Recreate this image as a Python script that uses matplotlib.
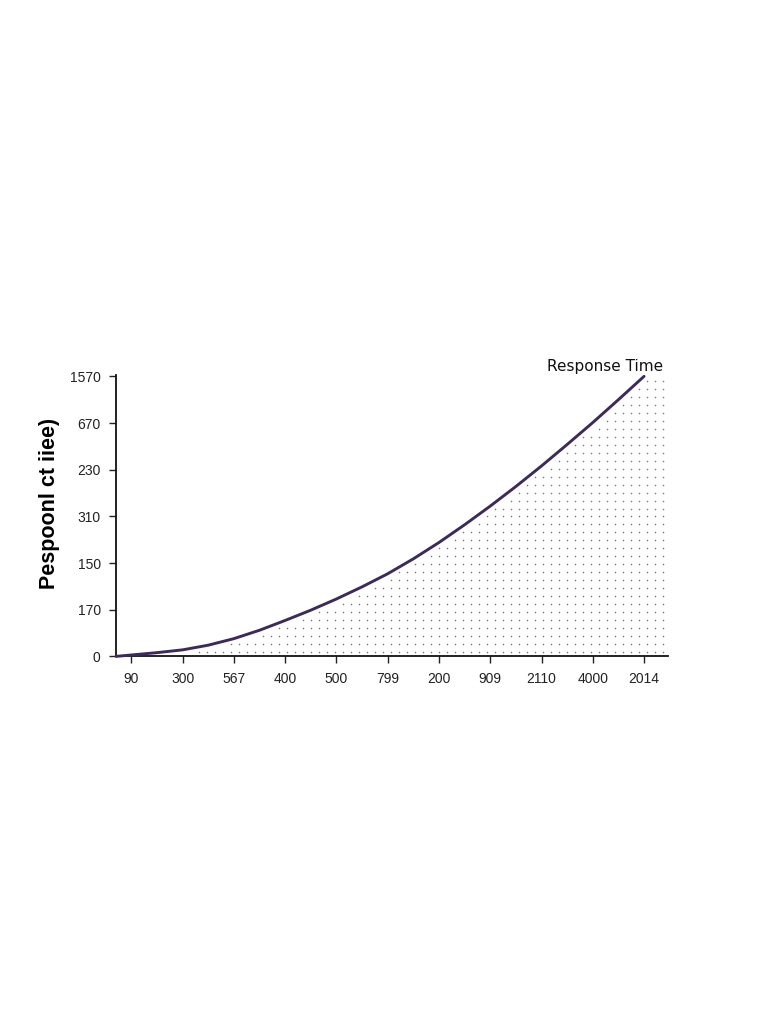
import numpy as np
import matplotlib.pyplot as plt

# ---------------------------------------------------------
# DATOS
# ---------------------------------------------------------

x_labels = ["90", "300", "567", "400", "500", "799", "200", "909", "2110", "4000", "2014"]
y_labels = ["0", "170", "150", "310", "230", "670", "1570"]

# curva en unidades de posición de tick
curve_x = [-0.3, 0.0, 0.5, 1.0, 1.5, 2.0, 2.5, 3.0, 3.5, 4.0, 4.5, 5.0,
           5.5, 6.0, 6.5, 7.0, 7.5, 8.0, 8.5, 9.0, 9.5, 10.0]
curve_y = [0.0, 0.03, 0.08, 0.14, 0.24, 0.38, 0.56, 0.77, 0.99, 1.23, 1.49, 1.77,
           2.09, 2.44, 2.82, 3.22, 3.64, 4.08, 4.54, 5.01, 5.50, 6.0]

# ---------------------------------------------------------
# FIGURA
# ---------------------------------------------------------

fig = plt.figure(figsize=(7.68, 10.24), dpi=100)
ax = fig.add_axes([0.151, 0.359, 0.719, 0.2744])

xmin, xmax = -0.3, 10.47
ymin, ymax = 0.0, 6.02

# patrón de puntos bajo la curva
gx = np.arange(1.0, xmax, 0.156)
gy = np.arange(0.09, ymax, 0.171)
GX, GY = np.meshgrid(gx, gy)
limit = np.interp(GX, curve_x, curve_y, right=ymax)
mask = GY < limit - 0.1
ax.scatter(GX[mask], GY[mask], s=1.3, color="#7a7a7a", linewidths=0, zorder=1)

ax.plot(curve_x, curve_y, color="#3d2a5c", linewidth=2.1, zorder=3,
        solid_capstyle="round", solid_joinstyle="round", clip_on=False)

ax.set_xlim(xmin, xmax)
ax.set_ylim(ymin, ymax)

tick_font = ["Liberation Sans Narrow", "Liberation Sans", "DejaVu Sans"]

ax.set_xticks(range(len(x_labels)))
ax.set_xticklabels(x_labels, fontsize=10, color="#222222", family=tick_font)
ax.set_yticks(np.arange(len(y_labels)) * 1.0)
ax.set_yticklabels(y_labels, fontsize=10, color="#222222", family=tick_font)

ax.tick_params(axis="both", direction="out", length=5, width=1, color="#222222")
ax.tick_params(axis="x", pad=6)
ax.tick_params(axis="y", pad=6)

for side in ["top", "right"]:
    ax.spines[side].set_visible(False)
for side in ["left", "bottom"]:
    ax.spines[side].set_linewidth(1.3)
    ax.spines[side].set_color("#111111")

ax.set_ylabel("Pespoonl ct iiee)", fontsize=15.5, fontweight="bold",
              family=["Liberation Sans Narrow", "Liberation Sans", "DejaVu Sans"])
ax.yaxis.set_label_coords(-0.101, 0.545)

ax.text(10.37, 6.04, "Response Time", ha="right", va="bottom",
        fontsize=11, color="#111111")

plt.savefig("out.png", dpi=100)
plt.close()
